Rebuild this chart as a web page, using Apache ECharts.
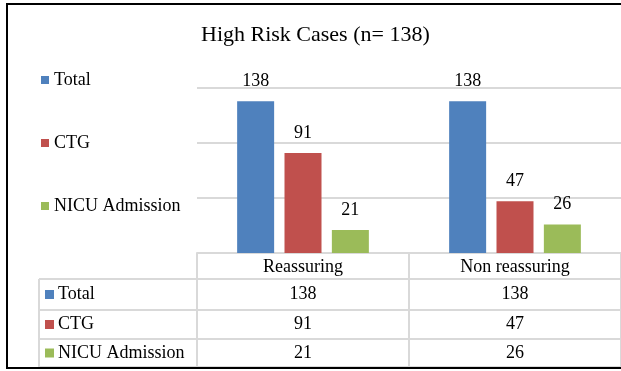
<!DOCTYPE html>
<html>
<head>
<meta charset="utf-8">
<script src="https://cdn.jsdelivr.net/npm/echarts@6/dist/echarts.min.js"></script>
<style>
  html, body { margin: 0; padding: 0; background: #fff; }
  #chart { width: 621px; height: 371px; }
</style>
</head>
<body>
<div id="chart"></div>
<script>
// Chart data
const categories = ['Reassuring', 'Non reassuring'];
const seriesNames = ['Total', 'CTG', 'NICU Admission'];
const totalValues = [138, 138];
const ctgValues = [91, 47];
const nicuValues = [21, 26];
const yTicks = [0, 50, 100, 150];
const titleText = 'High Risk Cases (n= 138)';

const colors = ['#4F81BD', '#C0504D', '#9BBB59'];
const FONT = 'Liberation Serif';
const GRID_LINE = '#d9d9d9';
const seriesValues = [totalValues, ctgValues, nicuValues];

const chart = echarts.init(document.getElementById('chart'), null, { renderer: 'canvas' });

chart.setOption({
  animation: false,
  title: {
    text: titleText,
    left: 201,
    top: 24,
    padding: 0,
    textStyle: { fontFamily: FONT, fontSize: 22, fontWeight: 'normal', color: '#000' }
  },
  legend: {
    orient: 'vertical',
    left: 41,
    top: 71,
    padding: 0,
    itemWidth: 8,
    itemHeight: 8,
    itemGap: 45,
    icon: 'rect',
    textStyle: { fontFamily: FONT, fontSize: 18, color: '#000' },
    data: seriesNames
  },
  grid: { left: 197, top: 88, width: 428, height: 165, containLabel: false },
  xAxis: {
    type: 'category',
    data: categories,
    axisLine: { show: true, lineStyle: { color: GRID_LINE, width: 2 } },
    axisTick: { show: true, length: 114, lineStyle: { color: GRID_LINE, width: 2 } },
    axisLabel: { margin: 5, fontFamily: FONT, fontSize: 18, color: '#000' }
  },
  yAxis: {
    type: 'value',
    min: yTicks[0],
    max: yTicks[yTicks.length - 1],
    interval: yTicks[1] - yTicks[0],
    axisLine: { show: false },
    axisTick: { show: false },
    axisLabel: { show: false },
    splitLine: { lineStyle: { color: GRID_LINE, width: 2 } }
  },
  series: seriesNames.map((name, i) => ({
    name,
    type: 'bar',
    data: seriesValues[i],
    barWidth: 37,
    barGap: '28%',
    itemStyle: { color: colors[i] },
    label: {
      show: true,
      position: 'top',
      distance: 11,
      fontFamily: FONT,
      fontSize: 18,
      color: '#000'
    }
  }))
});

// Data table under the plot, aligned to the category bands
const rowLines = [279, 310, 339, 367];
const tableLeft = 39;
const c0 = chart.convertToPixel({ xAxisIndex: 0 }, categories[0]);
const c1 = chart.convertToPixel({ xAxisIndex: 0 }, categories[1]);
const band = c1 - c0;
const plotLeft = c0 - band / 2;
const plotRight = plotLeft + band * categories.length;

const graphics = [];
const line = (x1, y1, x2, y2) => ({
  type: 'line', silent: true,
  shape: { x1, y1, x2, y2 },
  style: { stroke: GRID_LINE, lineWidth: 2 }
});

rowLines.forEach(y => graphics.push(line(tableLeft, y, plotRight, y)));
graphics.push(line(tableLeft, rowLines[0], tableLeft, rowLines[rowLines.length - 1]));

seriesNames.forEach((name, r) => {
  const cy = (rowLines[r] + rowLines[r + 1]) / 2;
  graphics.push({
    type: 'rect', silent: true,
    shape: { x: 45, y: cy - 4.5, width: 9, height: 9 },
    style: { fill: colors[r] }
  });
  graphics.push({
    type: 'text', silent: true,
    style: {
      text: name, x: 58, y: cy, align: 'left', verticalAlign: 'middle',
      fontFamily: FONT, fontSize: 18, fill: '#000'
    }
  });
  categories.forEach((cat, c) => {
    graphics.push({
      type: 'text', silent: true,
      style: {
        text: String(seriesValues[r][c]),
        x: chart.convertToPixel({ xAxisIndex: 0 }, cat), y: cy,
        align: 'center', verticalAlign: 'middle',
        fontFamily: FONT, fontSize: 18, fill: '#000'
      }
    });
  });
});

// Outer frame
graphics.push({
  type: 'rect', silent: true,
  shape: { x: 7, y: 4, width: 700, height: 364 },
  style: { fill: 'none', stroke: '#000', lineWidth: 2 }
});

chart.setOption({ graphic: graphics });
</script>
</body>
</html>
